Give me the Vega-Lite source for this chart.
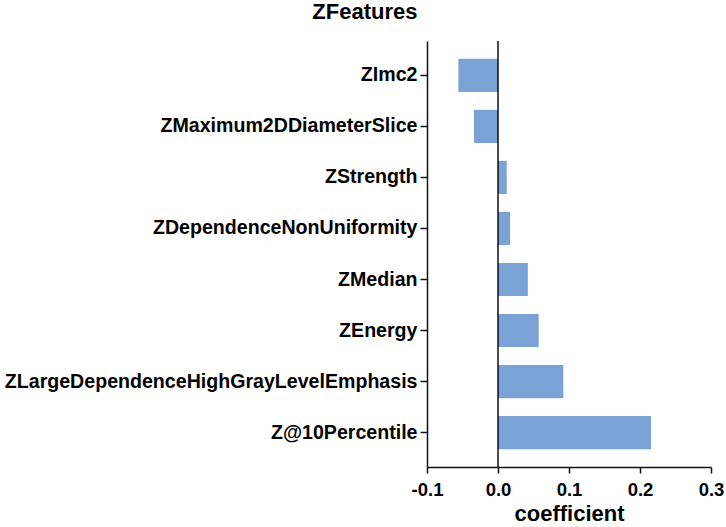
{
  "$schema": "https://vega.github.io/schema/vega-lite/v6.json",
  "width": 284,
  "height": 426,
  "autosize": {"type": "none"},
  "padding": {"left": 427, "top": 41, "right": 15, "bottom": 60},
  "background": "white",
  "config": {
    "view": {"stroke": null},
    "font": "Liberation Sans",
    "axis": {
      "grid": false,
      "domainColor": "#111111",
      "domainWidth": 1.5,
      "tickColor": "#111111",
      "tickWidth": 1.5,
      "labelColor": "#000000",
      "titleColor": "#000000",
      "labelFont": "Liberation Sans",
      "titleFont": "Liberation Sans",
      "labelFontWeight": "bold",
      "titleFontWeight": "bold"
    }
  },
  "layer": [
    {
      "data": {
        "values": [
          {"feature": "ZImc2", "coefficient": -0.0558},
          {"feature": "ZMaximum2DDiameterSlice", "coefficient": -0.0338},
          {"feature": "ZStrength", "coefficient": 0.0123},
          {"feature": "ZDependenceNonUniformity", "coefficient": 0.0170},
          {"feature": "ZMedian", "coefficient": 0.0420},
          {"feature": "ZEnergy", "coefficient": 0.0573},
          {"feature": "ZLargeDependenceHighGrayLevelEmphasis", "coefficient": 0.0920},
          {"feature": "Z@10Percentile", "coefficient": 0.2155}
        ]
      },
      "mark": {"type": "bar", "color": "#7ba2d5"},
      "encoding": {
        "y": {
          "field": "feature",
          "type": "nominal",
          "sort": null,
          "scale": {"paddingInner": 0.35, "paddingOuter": 0.35},
          "axis": {
            "title": "ZFeatures",
            "titleAngle": 0,
            "titleAlign": "right",
            "titleBaseline": "alphabetic",
            "titleX": -10,
            "titleY": -23,
            "titleFontSize": 22,
            "labelFontSize": 19.6,
            "tickSize": 7,
            "labelPadding": 3,
            "labelLimit": 600
          }
        },
        "x": {
          "field": "coefficient",
          "type": "quantitative",
          "scale": {"domain": [-0.1, 0.3], "nice": false, "zero": false},
          "axis": {
            "title": "coefficient",
            "values": [-0.1, 0, 0.1, 0.2, 0.3],
            "labelExpr": "replace(format(datum.value, '.1f'), '\u2212', '-')",
            "labelFontSize": 18.5,
            "titleFontSize": 22,
            "tickSize": 6,
            "labelPadding": 7,
            "titlePadding": 5,
            "labelFlush": false,
            "labelOverlap": false
          }
        }
      }
    },
    {
      "data": {"values": [{"zero": 0}]},
      "mark": {"type": "rule", "color": "#000000", "strokeWidth": 1.4},
      "encoding": {
        "x": {"field": "zero", "type": "quantitative"}
      }
    }
  ]
}
